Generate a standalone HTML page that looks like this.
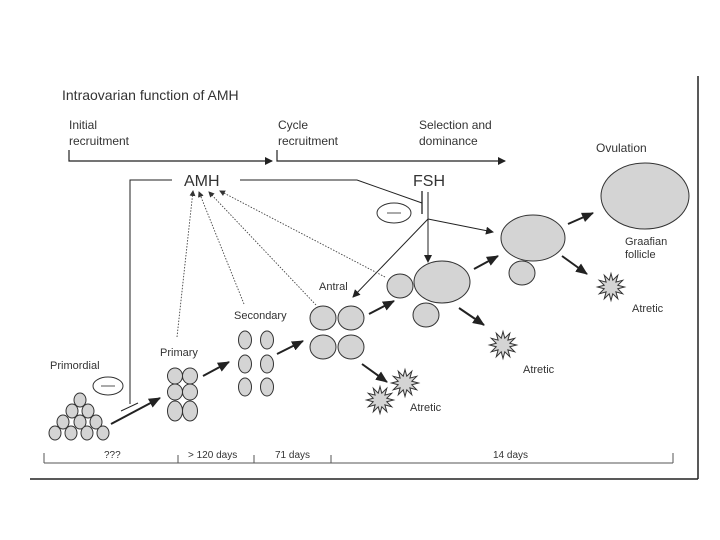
<!DOCTYPE html>
<html><head><meta charset="utf-8"><style>
html,body{margin:0;padding:0;background:#fff;width:720px;height:540px;overflow:hidden}
svg{display:block}
text{font-family:"Liberation Sans",sans-serif;fill:#333}
</style></head><body>
<svg id="s" width="720" height="540" viewBox="0 0 720 540" xmlns="http://www.w3.org/2000/svg">
<defs>
<marker id="a" markerWidth="8" markerHeight="8" refX="7" refY="4" orient="auto" markerUnits="userSpaceOnUse"><path d="M0,0 L8,4 L0,8 z" fill="#222"/></marker>
<marker id="b" markerWidth="12" markerHeight="10" refX="11" refY="5" orient="auto" markerUnits="userSpaceOnUse"><path d="M0,0 L12,5 L0,10 z" fill="#222"/></marker>
<marker id="c" markerWidth="6" markerHeight="6" refX="5" refY="3" orient="auto" markerUnits="userSpaceOnUse"><path d="M0,0 L6,3 L0,6 z" fill="#333"/></marker>
</defs>
<!-- frame -->
<line x1="698" y1="76" x2="698" y2="479" stroke="#222" stroke-width="1.5"/>
<line x1="30" y1="479" x2="698" y2="479" stroke="#222" stroke-width="1.5"/>
<text x="62" y="100" font-size="14">Intraovarian function of AMH</text>
<text x="69" y="129" font-size="12">Initial</text>
<text x="69" y="145" font-size="12">recruitment</text>
<text x="278" y="129" font-size="12">Cycle</text>
<text x="278" y="145" font-size="12">recruitment</text>
<text x="419" y="129" font-size="12">Selection and</text>
<text x="419" y="145" font-size="12">dominance</text>
<text x="596" y="152" font-size="12">Ovulation</text>
<path d="M69,150 V161 H272" fill="none" stroke="#222" stroke-width="1.2" marker-end="url(#a)"/>
<path d="M277,150 V161 H505" fill="none" stroke="#222" stroke-width="1.2" marker-end="url(#a)"/>
<text x="184" y="186" font-size="16">AMH</text>
<text x="413" y="186" font-size="16">FSH</text>
<path d="M172,180 H130 V404" fill="none" stroke="#222" stroke-width="1"/>
<line x1="121" y1="411" x2="138" y2="403" stroke="#222" stroke-width="1"/>
<ellipse cx="108" cy="386" rx="15" ry="9" fill="#fff" stroke="#333"/>
<line x1="101" y1="386" x2="115" y2="386" stroke="#555"/>
<path d="M240,180 H357 L422,203" fill="none" stroke="#222" stroke-width="1"/>
<line x1="422" y1="191" x2="422" y2="214" stroke="#222" stroke-width="1.3"/>
<ellipse cx="394" cy="213" rx="17" ry="10" fill="#fff" stroke="#333"/>
<line x1="387" y1="213" x2="401" y2="213" stroke="#555"/>
<line x1="428" y1="192" x2="428" y2="262" stroke="#222" marker-end="url(#a)"/>
<line x1="428" y1="219" x2="493" y2="232" stroke="#222" marker-end="url(#a)"/>
<line x1="428" y1="219" x2="353" y2="297" stroke="#222" marker-end="url(#a)"/>
<!-- dotted to AMH -->
<g stroke="#444" stroke-dasharray="1.5,1.5" stroke-width="0.9" fill="none">
<line x1="177" y1="337" x2="193" y2="191" marker-end="url(#c)"/>
<line x1="244" y1="304" x2="199" y2="192" marker-end="url(#c)"/>
<line x1="316" y1="305" x2="209" y2="192" marker-end="url(#c)"/>
<line x1="385" y1="277" x2="220" y2="191" marker-end="url(#c)"/>
</g>
<g fill="#d4d4d4" stroke="#333" stroke-width="1">
<!-- primordial -->
<ellipse cx="80" cy="400" rx="6" ry="7"/>
<ellipse cx="72" cy="411" rx="6" ry="7"/><ellipse cx="88" cy="411" rx="6" ry="7"/>
<ellipse cx="63" cy="422" rx="6" ry="7"/><ellipse cx="80" cy="422" rx="6" ry="7"/><ellipse cx="96" cy="422" rx="6" ry="7"/>
<ellipse cx="55" cy="433" rx="6" ry="7"/><ellipse cx="71" cy="433" rx="6" ry="7"/><ellipse cx="87" cy="433" rx="6" ry="7"/><ellipse cx="103" cy="433" rx="6" ry="7"/>
<!-- primary -->
<ellipse cx="175" cy="376" rx="7.5" ry="8"/><ellipse cx="190" cy="376" rx="7.5" ry="8"/>
<ellipse cx="175" cy="392" rx="7.5" ry="8"/><ellipse cx="190" cy="392" rx="7.5" ry="8"/>
<ellipse cx="175" cy="411" rx="7.5" ry="10"/><ellipse cx="190" cy="411" rx="7.5" ry="10"/>
<!-- secondary -->
<ellipse cx="245" cy="340" rx="6.5" ry="9"/><ellipse cx="267" cy="340" rx="6.5" ry="9"/>
<ellipse cx="245" cy="364" rx="6.5" ry="9"/><ellipse cx="267" cy="364" rx="6.5" ry="9"/>
<ellipse cx="245" cy="387" rx="6.5" ry="9"/><ellipse cx="267" cy="387" rx="6.5" ry="9"/>
<!-- antral -->
<ellipse cx="323" cy="318" rx="13" ry="12"/><ellipse cx="351" cy="318" rx="13" ry="12"/>
<ellipse cx="323" cy="347" rx="13" ry="12"/><ellipse cx="351" cy="347" rx="13" ry="12"/>
<!-- cluster -->
<ellipse cx="400" cy="286" rx="13" ry="12"/>
<ellipse cx="442" cy="282" rx="28" ry="21"/>
<ellipse cx="426" cy="315" rx="13" ry="12"/>
<ellipse cx="533" cy="238" rx="32" ry="23"/>
<ellipse cx="522" cy="273" rx="13" ry="12"/>
<ellipse cx="645" cy="196" rx="44" ry="33"/>
<g id="stars"></g>
</g>
<g stroke="#222" stroke-width="2">
<line x1="111" y1="424" x2="160" y2="398" marker-end="url(#b)"/>
<line x1="203" y1="376" x2="229" y2="362" marker-end="url(#b)"/>
<line x1="277" y1="354" x2="303" y2="341" marker-end="url(#b)"/>
<line x1="369" y1="314" x2="394" y2="301" marker-end="url(#b)"/>
<line x1="474" y1="269" x2="498" y2="256" marker-end="url(#b)"/>
<line x1="568" y1="224" x2="593" y2="213" marker-end="url(#b)"/>
<line x1="362" y1="364" x2="387" y2="382" marker-end="url(#b)"/>
<line x1="459" y1="308" x2="484" y2="325" marker-end="url(#b)"/>
<line x1="562" y1="256" x2="587" y2="274" marker-end="url(#b)"/>
</g>
<text x="50" y="369" font-size="11">Primordial</text>
<text x="160" y="356" font-size="11">Primary</text>
<text x="234" y="319" font-size="11">Secondary</text>
<text x="319" y="290" font-size="11">Antral</text>
<text x="410" y="411" font-size="11">Atretic</text>
<text x="523" y="373" font-size="11">Atretic</text>
<text x="632" y="312" font-size="11">Atretic</text>
<text x="625" y="245" font-size="11">Graafian</text>
<text x="625" y="258" font-size="11">follicle</text>
<!-- timeline -->
<g stroke="#555" stroke-width="1">
<line x1="44" y1="463" x2="673" y2="463"/>
<line x1="44" y1="453" x2="44" y2="463"/>
<line x1="178" y1="455" x2="178" y2="463"/>
<line x1="254" y1="455" x2="254" y2="463"/>
<line x1="331" y1="455" x2="331" y2="463"/>
<line x1="673" y1="453" x2="673" y2="463"/>
</g>
<text x="104" y="458" font-size="10">???</text>
<text x="188" y="458" font-size="10">&gt; 120 days</text>
<text x="275" y="458" font-size="10">71 days</text>
<text x="493" y="458" font-size="10">14 days</text>
</svg>
<script>
var g=document.getElementById('stars');
[[405,383],[380,400],[503,345],[611,287]].forEach(function(c){
 var p=[];for(var i=0;i<24;i++){var r=i%2?7:13.5;var a=i*Math.PI/12;p.push((c[0]+r*Math.cos(a)).toFixed(1)+','+(c[1]+r*Math.sin(a)).toFixed(1));}
 var e=document.createElementNS('http://www.w3.org/2000/svg','polygon');e.setAttribute('points',p.join(' '));g.appendChild(e);});
</script>
</body></html>
